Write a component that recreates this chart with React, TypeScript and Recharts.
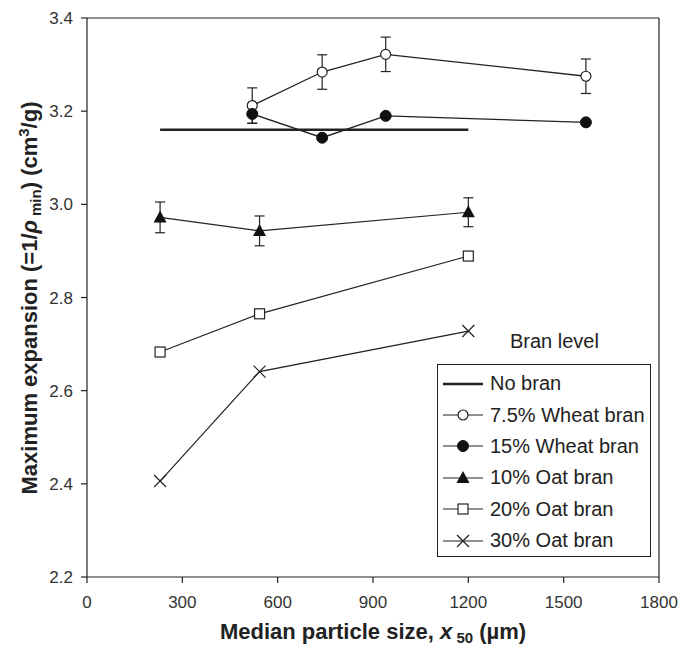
import { LineChart, Line, XAxis, YAxis, ErrorBar, ReferenceLine, Legend } from 'recharts'

// values
const xTicks = [0, 300, 600, 900, 1200, 1500, 1800]
const yTicks = [2.2, 2.4, 2.6, 2.8, 3.0, 3.2, 3.4]

const noBranX = [230, 1200]
const noBranY = [3.16, 3.16]

const wheatX = [520, 740, 940, 1570]
const wheat75Y = [3.212, 3.284, 3.322, 3.275]
const wheat75Err = [0.038, 0.037, 0.037, 0.037]
const wheat15Y = [3.194, 3.143, 3.19, 3.176]
const wheat15Err = [0.02, 0, 0, 0]

const oatX = [230, 543, 1200]
const oat10Y = [2.972, 2.943, 2.983]
const oat10Err = [0.033, 0.032, 0.031]
const oat20Y = [2.683, 2.765, 2.889]
const oat30Y = [2.406, 2.641, 2.728]

const seriesNames = ['No bran', '7.5% Wheat bran', '15% Wheat bran', '10% Oat bran', '20% Oat bran', '30% Oat bran']
const markers = ['none', 'openCircle', 'filledCircle', 'triangle', 'square', 'cross']

const INK = '#222'
const FONT = 'Arial, "Liberation Sans", Helvetica, sans-serif'

function rows(xs: number[], ys: number[], errs?: number[]) {
  return xs.map((x, i) => ({ x, y: ys[i], err: errs ? errs[i] : 0 }))
}

function Marker({ kind, cx, cy }: { kind: string; cx: number; cy: number }) {
  switch (kind) {
    case 'openCircle':
      return <circle cx={cx} cy={cy} r={5} fill="#fff" stroke={INK} strokeWidth={1.2} />
    case 'filledCircle':
      return <circle cx={cx} cy={cy} r={5.5} fill="#111" stroke="#111" />
    case 'triangle':
      return (
        <polygon
          points={`${cx},${cy - 7} ${cx - 6.5},${cy + 5} ${cx + 6.5},${cy + 5}`}
          fill="#111"
        />
      )
    case 'square':
      return <rect x={cx - 5} y={cy - 5} width={10} height={10} fill="#fff" stroke={INK} strokeWidth={1.2} />
    case 'cross':
      return (
        <g stroke={INK} strokeWidth={1.2}>
          <line x1={cx - 6} y1={cy - 6} x2={cx + 6} y2={cy + 6} />
          <line x1={cx - 6} y1={cy + 6} x2={cx + 6} y2={cy - 6} />
        </g>
      )
    default:
      return null
  }
}

const dotOf = (kind: string) => (p: any) => <Marker key={`${kind}-${p.index}`} kind={kind} cx={p.cx} cy={p.cy} />

function LegendBox() {
  return (
    <div
      style={{
        width: 214,
        height: 193,
        boxSizing: 'border-box',
        border: `1.5px solid ${INK}`,
        background: '#fff',
        paddingTop: 3,
        fontFamily: FONT,
        fontSize: 20,
        color: INK
      }}
    >
      {seriesNames.map((name, i) => (
        <div key={name} style={{ height: 31.4, display: 'flex', alignItems: 'center' }}>
          <svg width={52} height={20} style={{ flex: 'none' }}>
            <line x1={5} y1={10} x2={45} y2={10} stroke={INK} strokeWidth={i === 0 ? 2.5 : 1.2} />
            <Marker kind={markers[i]} cx={25} cy={10} />
          </svg>
          <span style={{ whiteSpace: 'nowrap' }}>{name}</span>
        </div>
      ))}
    </div>
  )
}

export default function App() {
  return (
    <div style={{ position: 'absolute', left: 0, top: 0, width: 681, height: 649, background: '#fff' }}>
      <LineChart width={681} height={649} margin={{ top: 18, right: 22, left: 0, bottom: 0 }}>
        <XAxis
          type="number"
          dataKey="x"
          domain={[0, 1800]}
          ticks={xTicks}
          height={72}
          tickSize={6}
          tickMargin={13}
          stroke={INK}
          strokeWidth={1.2}
          tick={{ fill: '#333', fontSize: 17, fontFamily: FONT }}
          label={{
            content: () => (
              <text x={373} y={639} textAnchor="middle" fontFamily={FONT} fontSize={22} fontWeight="bold" fill={INK}>
                Median particle size, <tspan fontStyle="italic">x</tspan>
                <tspan fontSize={15} dy={4}> 50</tspan>
                <tspan dy={-4}> (µm)</tspan>
              </text>
            )
          }}
        />
        <YAxis
          type="number"
          domain={[2.2, 3.4]}
          ticks={yTicks}
          width={87}
          tickSize={6}
          tickMargin={8}
          stroke={INK}
          strokeWidth={1.2}
          tickFormatter={(v: number) => v.toFixed(1)}
          tick={{ fill: '#333', fontSize: 17, fontFamily: FONT }}
          label={{
            content: () => (
              <text
                x={37}
                y={298}
                transform="rotate(-90 37 298)"
                textAnchor="middle"
                fontFamily={FONT}
                fontSize={22}
                fontWeight="bold"
                fill={INK}
              >
                Maximum expansion (=1/<tspan fontStyle="italic">ρ</tspan>
                <tspan fontSize={15} dy={4}> min</tspan>
                <tspan dy={-4}>) (cm</tspan>
                <tspan fontSize={15} dy={-8}>3</tspan>
                <tspan dy={8}>/g)</tspan>
              </text>
            )
          }}
        />
        <ReferenceLine y={3.4} stroke={INK} strokeWidth={1.2} />
        <ReferenceLine x={1800} stroke={INK} strokeWidth={1.2} />

        <Line
          data={rows(noBranX, noBranY)}
          dataKey="y"
          name={seriesNames[0]}
          stroke={INK}
          strokeWidth={2.5}
          dot={false}
          isAnimationActive={false}
        />
        <Line
          data={rows(wheatX, wheat75Y, wheat75Err)}
          dataKey="y"
          name={seriesNames[1]}
          stroke={INK}
          strokeWidth={1.3}
          dot={dotOf('openCircle')}
          isAnimationActive={false}
        >
          <ErrorBar dataKey="err" width={5} stroke={INK} strokeWidth={1.2} direction="y" />
        </Line>
        <Line
          data={rows(wheatX, wheat15Y, wheat15Err)}
          dataKey="y"
          name={seriesNames[2]}
          stroke={INK}
          strokeWidth={1.3}
          dot={dotOf('filledCircle')}
          isAnimationActive={false}
        >
          <ErrorBar dataKey="err" width={5} stroke={INK} strokeWidth={1.2} direction="y" />
        </Line>
        <Line
          data={rows(oatX, oat10Y, oat10Err)}
          dataKey="y"
          name={seriesNames[3]}
          stroke={INK}
          strokeWidth={1.2}
          dot={dotOf('triangle')}
          isAnimationActive={false}
        >
          <ErrorBar dataKey="err" width={5} stroke={INK} strokeWidth={1.2} direction="y" />
        </Line>
        <Line
          data={rows(oatX, oat20Y)}
          dataKey="y"
          name={seriesNames[4]}
          stroke={INK}
          strokeWidth={1.2}
          dot={dotOf('square')}
          isAnimationActive={false}
        />
        <Line
          data={rows(oatX, oat30Y)}
          dataKey="y"
          name={seriesNames[5]}
          stroke={INK}
          strokeWidth={1.2}
          dot={dotOf('cross')}
          isAnimationActive={false}
        />

        <Legend
          layout="vertical"
          align="center"
          verticalAlign="middle"
          content={() => <LegendBox />}
          wrapperStyle={{ position: 'absolute', left: 437, top: 364, width: 214, height: 193 }}
        />
      </LineChart>
      <div
        style={{
          position: 'absolute',
          left: 510,
          top: 330,
          fontFamily: FONT,
          fontSize: 20,
          color: INK,
          whiteSpace: 'nowrap'
        }}
      >
        Bran level
      </div>
    </div>
  )
}
